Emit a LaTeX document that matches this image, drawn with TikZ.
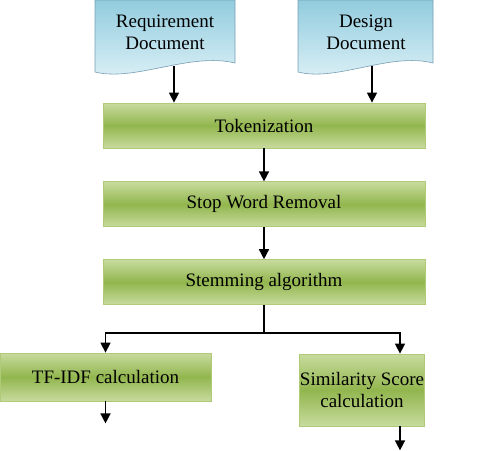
\documentclass[tikz,border=0pt]{standalone}
\usepackage{fontspec}
\setmainfont{Liberation Serif}
\usetikzlibrary{arrows.meta, positioning, calc}
\definecolor{olivemid}{RGB}{146,182,78}
\definecolor{oliveedge}{RGB}{200,219,158}
\definecolor{oliveline}{RGB}{176,203,120}
\definecolor{doctop}{RGB}{146,204,222}
\definecolor{docbot}{RGB}{222,241,247}
\definecolor{docline}{RGB}{120,158,178}

\begin{document}
\begin{tikzpicture}[x=1pt, y=-1pt,
    procbox/.style={rectangle, draw=oliveline, line width=0.8pt, top color=oliveedge, bottom color=oliveedge, middle color=olivemid, minimum width=322pt, minimum height=45pt, inner sep=0pt, align=center, font=\fontsize{19}{21.5}\selectfont},
    docshade/.style={top color=doctop, bottom color=docbot, draw=docline, line width=0.6pt},
    docnode/.style={rectangle, inner sep=0pt, align=center, font=\fontsize{19}{22}\selectfont},
    arrow/.style={-{Triangle[length=10pt, width=10pt]}, line width=1.5pt, color=black}
]
\useasboundingbox (0,0) rectangle (487,450);
% document shapes
\shade[docshade] (95,0) -- (235,0) -- (235,63) .. controls (190,52) and (135,82) .. (95,72) -- cycle;
\shade[docshade] (298,0) -- (433,0) -- (433,63) .. controls (390,52) and (337,82) .. (298,72) -- cycle;
\node[docnode] (req) at (165,32) {Requirement\\Document};
\node[docnode] (des) at (366,32) {Design\\Document};
\coordinate (reqout) at (174,66);
\coordinate (desout) at (372,66);
% process steps
\node[procbox] (tok) at (264,125.5) {Tokenization};
\node[procbox, below=33pt of tok] (stop) {Stop Word Removal};
\node[procbox, below=32pt of stop] (stem) {Stemming algorithm};
\node[procbox, minimum width=211pt, minimum height=48pt] (tfidf) at (105.5,377) {TF-IDF calculation};
\node[procbox, minimum width=125pt, minimum height=72pt] (sim) at (362,390) {Similarity Score\\calculation};
\coordinate (split) at ($(stem.south)+(0,28)$);
\coordinate (tfout) at ($(tfidf.south)+(0,22)$);
\coordinate (simout) at ($(sim.south)+(38,24)$);
\draw[arrow] (reqout) -- (reqout |- tok.north);
\draw[arrow] (desout) -- (desout |- tok.north);
\draw[arrow] (tok.south) -- (stop.north);
\draw[arrow] (stop.south) -- (stem.north);
\draw[line width=1.5pt] (stem.south) -- (split);
\draw[arrow] (split) -| (tfidf.north);
\draw[arrow] (split) -| ([xshift=38pt]sim.north);
\draw[arrow] (tfidf.south) -- (tfout);
\draw[arrow] ([xshift=38pt]sim.south) -- (simout);
\end{tikzpicture}
\end{document}
